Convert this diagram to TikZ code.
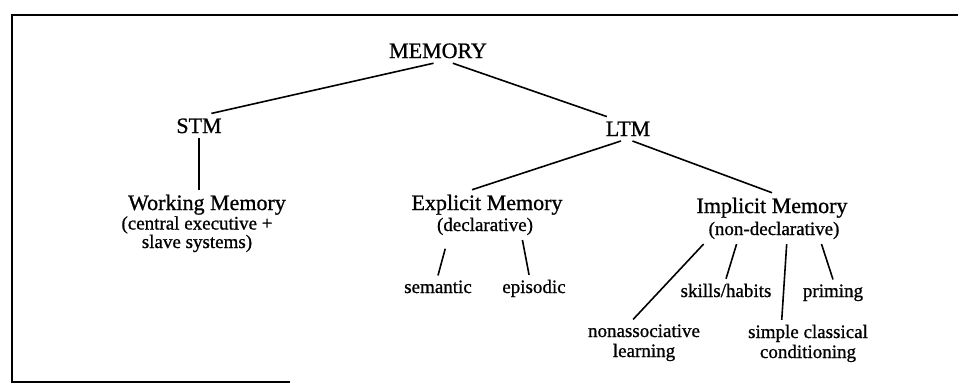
\documentclass[tikz,border=0pt]{standalone}
\usepackage{fontspec}
\setmainfont{Liberation Serif}[FakeBold=0.9]
\tikzset{
	big/.style={font=\fontsize{22}{24}\selectfont, inner sep=4pt, outer sep=1pt, anchor=base},
	small/.style={font=\fontsize{19}{20}\selectfont, inner sep=4pt, outer sep=1pt, anchor=base, align=center},
	link/.style={line width=1.6pt},
}
\begin{document}
\begin{tikzpicture}[x=1pt,y=-1pt]
	\useasboundingbox (0,0) rectangle (958,386);
	% Frame (only partly visible)
	\draw[line width=1.8pt] (290,382) -- (12,382) -- (12,15) -- (958,15);
	
	% Main levels
	\node[big] (mem) at (438,58) {MEMORY};
	\node[big] (stm) at (199,133) {STM};
	\node[big] (ltm) at (628,136) {LTM};
	
	% Third level
	\node[big] (wm) at (207,210) {Working Memory};
	\node[small, font=\fontsize{19}{18.5}\selectfont] (wmnote) at (197,248) {(central executive +\\slave systems)};
	\node[big] (expl) at (487,210) {Explicit Memory};
	\node[small] (decl) at (485,231) {(declarative)};
	\node[big] (impl) at (772,213) {Implicit Memory};
	\node[small] (nondecl) at (774,235) {(non-declarative)};
	
	% Leaves (multi-line ones sit on their last baseline)
	\node[small] (sem) at (438,293) {semantic};
	\node[small] (epi) at (534,293) {episodic};
	\node[small] (nonassoc) at (644,357) {nonassociative\\learning};
	\node[small] (skills) at (726,297) {skills/habits};
	\node[small] (simple) at (808,358) {simple classical\\conditioning};
	\node[small] (priming) at (833,297) {priming};
	
	% Connectors
	\draw[link] (mem.250) -- (stm.45);
	\draw[link] (mem.320) -- (ltm.150);
	\draw[link] (stm.south) -- (stm.south |- wm.north);
	\draw[link] (ltm.240) -- (expl.135);
	\draw[link] (ltm.290) -- (impl.north);
	\draw[link, shorten <=9pt] (decl.200) -- (sem.north);
	\draw[link] (decl.340) -- (epi.110);
	\foreach \from/\to in {south west/nonassoc.115, 200/skills.north, 313/simple.138, 344/priming.north}
		\draw[link] (nondecl.\from) -- (\to);
\end{tikzpicture}
\end{document}
